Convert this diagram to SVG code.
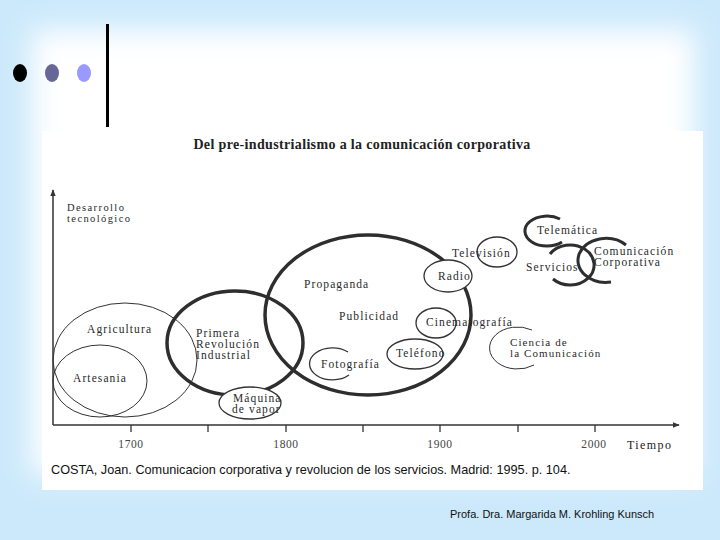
<svg xmlns="http://www.w3.org/2000/svg" width="720" height="540" viewBox="0 0 720 540">
<defs>
<filter id="glow" x="-20%" y="-20%" width="140%" height="140%"><feGaussianBlur stdDeviation="14"/></filter>
<marker id="arr" viewBox="0 0 10 10" refX="9" refY="5" markerWidth="7" markerHeight="7" orient="auto" markerUnits="userSpaceOnUse"><path d="M0,1 L10,5 L0,9 Z" fill="#333"/></marker>
<style>
.lbl{font-family:"Liberation Serif",serif;font-size:11.5px;letter-spacing:1.1px;fill:#2a2a2a}
.yr{font-family:"Liberation Serif",serif;font-size:11.5px;letter-spacing:0.6px;fill:#444;text-anchor:middle}
.thick{fill:none;stroke:#2e2e2e;stroke-width:3.5}
.mid{fill:none;stroke:#2e2e2e;stroke-width:3}
.small{fill:#fff;stroke:#333;stroke-width:1.3}
.thin{fill:none;stroke:#333;stroke-width:1}
.ax{stroke:#333;stroke-width:1.5;fill:none}
.tick{stroke:#333;stroke-width:1.3}
</style>
</defs>
<rect width="720" height="540" fill="#cce9fb"/>
<rect x="32" y="30" width="662" height="445" fill="#fff" filter="url(#glow)"/>
<g id="bullets">
<ellipse cx="20" cy="73" rx="7" ry="9" fill="#000"/>
<ellipse cx="52" cy="73" rx="7" ry="9" fill="#666699"/>
<ellipse cx="84" cy="73" rx="7" ry="9" fill="#9999ff"/>
<rect x="106" y="24" width="3" height="103" fill="#000"/>
</g>
<rect x="42" y="131" width="661" height="359" fill="#fff"/>
<text x="362" y="149" text-anchor="middle" font-family="Liberation Serif, serif" font-weight="bold" font-size="14" letter-spacing="0.35" fill="#222">Del pre-industrialismo a la comunicación corporativa</text>
<g id="connectors">
<line class="ax" x1="53" y1="425" x2="53" y2="190" marker-end="url(#arr)"/>
<line class="ax" x1="53" y1="425" x2="679" y2="425" marker-end="url(#arr)"/>
<line class="tick" x1="131" y1="425" x2="131" y2="432"/>
<line class="tick" x1="208" y1="425" x2="208" y2="432"/>
<line class="tick" x1="286" y1="425" x2="286" y2="432"/>
<line class="tick" x1="363" y1="425" x2="363" y2="432"/>
<line class="tick" x1="440" y1="425" x2="440" y2="432"/>
<line class="tick" x1="518" y1="425" x2="518" y2="432"/>
<line class="tick" x1="595" y1="425" x2="595" y2="432"/>
</g>
<g id="axis-labels">
<text class="lbl" x="67" y="211" style="font-size:10.5px;letter-spacing:1.4px">Desarrollo</text>
<text class="lbl" x="67" y="222" style="font-size:10.5px;letter-spacing:1.4px">tecnológico</text>
<text class="yr" x="131" y="448">1700</text>
<text class="yr" x="286" y="448">1800</text>
<text class="yr" x="440" y="448">1900</text>
<text class="yr" x="594" y="448">2000</text>
<text class="lbl" x="627" y="449" style="font-size:12px;letter-spacing:1.4px;fill:#222">Tiempo</text>
</g>
<g id="agricultura"><ellipse class="thin" cx="125" cy="360" rx="72" ry="57"/><text class="lbl" x="87" y="333">Agricultura</text></g>
<g id="artesania"><ellipse class="thin" cx="100" cy="381" rx="47" ry="36"/><text class="lbl" x="73" y="382">Artesania</text></g>
<g id="primera"><ellipse class="thick" cx="235" cy="343" rx="68" ry="52"/>
<text class="lbl" x="196" y="337">Primera</text><text class="lbl" x="196" y="348">Revolución</text><text class="lbl" x="196" y="359">Industrial</text></g>
<g id="propaganda"><ellipse class="thick" cx="368" cy="315" rx="103" ry="80"/>
<text class="lbl" x="304" y="288">Propaganda</text><text class="lbl" x="339" y="320">Publicidad</text></g>
<g id="maquina"><ellipse class="small" cx="250" cy="403" rx="31" ry="16"/>
<text class="lbl" x="233" y="402">Máquina</text><text class="lbl" x="232" y="413">de vapor</text></g>
<g id="fotografia"><path class="small" d="M348,352 A23,16 0 1,0 349,375" style="fill:none"/><text class="lbl" x="321" y="368">Fotografía</text></g>
<g id="telefono"><ellipse class="small" cx="415" cy="354" rx="28" ry="15"/><text class="lbl" x="396" y="357">Teléfono</text></g>
<g id="cinematografia"><ellipse class="small" cx="436" cy="323" rx="20" ry="15"/><text class="lbl" x="426" y="326">Cinematografía</text></g>
<g id="radio"><ellipse class="small" cx="448" cy="276" rx="24" ry="16"/><text class="lbl" x="438" y="280">Radio</text></g>
<g id="television"><ellipse class="small" cx="497" cy="252" rx="20" ry="15"/><text class="lbl" x="452" y="257">Televisión</text></g>
<g id="ciencia"><path class="thin" d="M532,330 A28,21 0 1,0 534,365"/>
<text class="lbl" x="510" y="346" style="font-size:11px">Ciencia de</text><text class="lbl" x="510" y="357" style="font-size:11px">la Comunicación</text></g>
<g id="telematica"><path class="mid" d="M560,219 A22,15 0 1,0 562,242"/><text class="lbl" x="537" y="234">Telemática</text></g>
<g id="servicios"><path class="mid" d="M550,254 A24,20 0 1,1 553,279"/><text class="lbl" x="526" y="271">Servicios</text></g>
<g id="comunicacion"><path class="mid" d="M626,245 A28,22 0 1,0 611,282"/>
<text class="lbl" x="594" y="255">Comunicación</text><text class="lbl" x="594" y="266">Corporativa</text></g>
<text x="51" y="474" font-family="Liberation Sans, Arial, sans-serif" font-size="12.7" fill="#111">COSTA, Joan. Comunicacion corporativa y revolucion de los servicios. Madrid: 1995. p. 104.</text>
<text x="450" y="518" font-family="Liberation Sans, Arial, sans-serif" font-size="11" fill="#111">Profa. Dra. Margarida M. Krohling Kunsch</text>
</svg>
